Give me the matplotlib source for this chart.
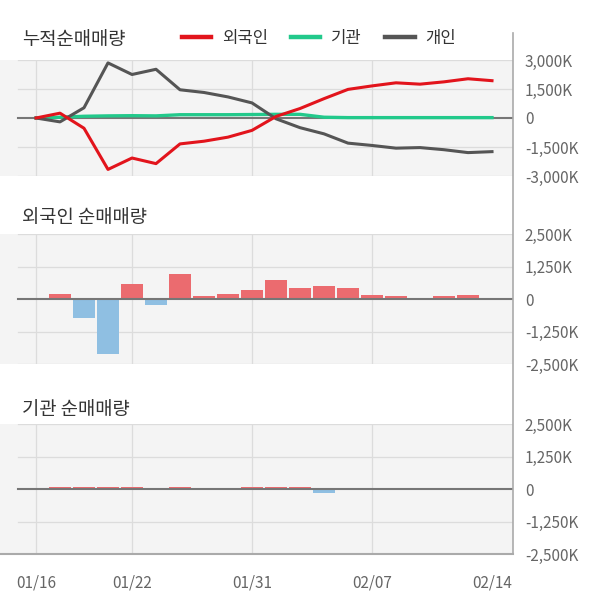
import matplotlib.pyplot as plt
import numpy as np
from matplotlib.lines import Line2D

plt.rcParams['font.family'] = ['Noto Sans CJK KR', 'DejaVu Sans']

# trading days (index positions on the x axis)
dates = ["01/16", "01/17", "01/20", "01/21", "01/22", "01/23", "01/28", "01/29", "01/30", "01/31",
         "02/03", "02/04", "02/05", "02/06", "02/07", "02/10", "02/11", "02/12", "02/13", "02/14"]
tick_dates = ["01/16", "01/22", "01/31", "02/07", "02/14"]
grid_dates = ["01/16", "01/22", "01/31", "02/07"]

# cumulative net buying (K shares)
cum_foreign = [0, 250, -530, -2660, -2070, -2360, -1340, -1200, -990, -640,
               80, 490, 1000, 1480, 1660, 1820, 1750, 1870, 2030, 1930]
cum_inst = [0, 40, 90, 110, 120, 110, 170, 170, 170, 180,
            190, 190, 40, 20, 20, 20, 20, 20, 20, 20]
cum_indiv = [0, -200, 530, 2850, 2250, 2520, 1460, 1320, 1090, 780,
             -40, -500, -820, -1300, -1420, -1560, -1530, -1640, -1790, -1740]

# daily net buying (K shares)
daily_foreign = [0, 180, -720, -2120, 580, -240, 960, 125, 210, 360,
                 740, 430, 510, 430, 170, 130, 0, 130, 170, 0]
daily_inst = [0, 65, 65, 65, 65, 0, 65, 0, 0, 65,
              65, 65, -160, 0, 0, 0, 0, 0, 0, 0]

top_ticks = [3000, 1500, 0, -1500, -3000]
bar_ticks = [2500, 1250, 0, -1250, -2500]

W, H = 600, 604
BG = "#f4f4f4"
GRID = "#dcdcdc"
ZERO = "#767676"
TICKC = "#666666"
TITLEC = "#333333"


def fmt(v):
    return "0" if v == 0 else f"{v:,}K"


def setup(ax, ticks):
    x = np.arange(len(dates))
    ax.set_facecolor(BG)
    for s in ax.spines.values():
        s.set_visible(False)
    ax.set_xlim(-36 / 24, 19 + 21 / 24)
    ax.set_ylim(ticks[-1], ticks[0])
    ax.yaxis.tick_right()
    ax.set_yticks(ticks)
    ax.set_yticklabels([fmt(t) for t in ticks])
    ax.tick_params(axis="y", length=0, pad=8.5, labelsize=11, labelcolor=TICKC)
    ax.set_xticks([])
    for t in ticks:
        if t != 0:
            ax.axhline(t, xmin=18 / 513, color=GRID, linewidth=0.9, zorder=0.5)
    for d in grid_dates:
        ax.axvline(dates.index(d), color=GRID, linewidth=0.9, zorder=0.5)
    return x


fig = plt.figure(figsize=(W / 100, H / 100), dpi=100)


def axes_at(top_px, bottom_px):
    return fig.add_axes([0, 1 - bottom_px / H, 513 / W, (bottom_px - top_px) / H])


# cumulative panel
ax1 = axes_at(60, 176)
x = setup(ax1, top_ticks)
ax1.axhline(0, xmin=18 / 513, color=ZERO, linewidth=1.5, zorder=1)
l_f, = ax1.plot(x, cum_foreign, color="#e2141c", linewidth=2.2, zorder=4, label="외국인")
l_i, = ax1.plot(x, cum_inst, color="#22c98b", linewidth=2.4, zorder=2, label="기관")
l_p, = ax1.plot(x, cum_indiv, color="#555555", linewidth=2.2, zorder=3, label="개인")

# foreign daily bars
ax2 = axes_at(234, 364)
setup(ax2, bar_ticks)
cols = ["#eb6b6f" if v >= 0 else "#8fbfe2" for v in daily_foreign]
ax2.bar(x, daily_foreign, width=0.94, color=cols, zorder=2)
ax2.axhline(0, xmin=18 / 513, color=ZERO, linewidth=1.5, zorder=3)

# institution daily bars
ax3 = axes_at(424, 554)
setup(ax3, bar_ticks)
cols = ["#eb6b6f" if v >= 0 else "#8fbfe2" for v in daily_inst]
ax3.bar(x, daily_inst, width=0.94, color=cols, zorder=2)
ax3.axhline(0, xmin=18 / 513, color=ZERO, linewidth=1.5, zorder=3)
ax3.set_xticks([dates.index(d) for d in tick_dates])
ax3.set_xticklabels(tick_dates)
ax3.tick_params(axis="x", length=0, pad=15, labelsize=11, labelcolor=TICKC)

# titles
for ypx, txt in [(40, "누적순매매량"), (217, "외국인 순매매량"), (409, "기관 순매매량")]:
    fig.text(22 / W, 1 - ypx / H, txt, fontsize=13.5, color=TITLEC, va="center", ha="left")

leg = fig.legend(handles=[l_f, l_i, l_p], loc="center", bbox_to_anchor=(319 / W, 1 - 38 / H),
                 ncol=3, frameon=False, fontsize=12, handlelength=1.75, handletextpad=0.65,
                 columnspacing=1.4, labelcolor=TITLEC)
for h in leg.get_lines():
    h.set_linewidth(3.2)

# right border and bottom border
fig.add_artist(Line2D([513 / W, 513 / W], [1 - 33 / H, 1 - 554 / H], color="#aaaaaa", linewidth=1.2))
fig.add_artist(Line2D([0, 513 / W], [1 - 554 / H, 1 - 554 / H], color="#aaaaaa", linewidth=1.5))

fig.savefig("out.png", dpi=100, facecolor="white")
